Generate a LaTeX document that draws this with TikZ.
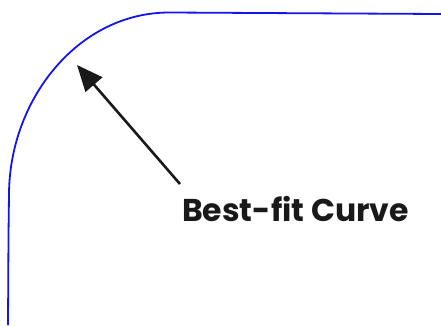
\documentclass[tikz,border=0pt]{standalone}
\usepackage{fontspec}
\setmainfont{Poppins}
\usetikzlibrary{arrows.meta}
\begin{document}
\begin{tikzpicture}[x=1pt,y=-1pt,
  curveline/.style={draw={rgb,255:red,20;green,20;blue,240},line width=1.8pt},
  pointer/.style={draw=black!90,line width=2.6pt,-{Triangle[length=26pt,width=22pt]}},
  lbl/.style={font=\fontsize{31.5}{36}\selectfont\bfseries,text=black!90,inner sep=0pt}]
\useasboundingbox (0,0) rectangle (441,325);
\draw[curveline] (8,325) -- (8.5,235) -- (9,195) .. controls (9,100) and (78,12) .. (170,12.5) -- (441,14);
\coordinate (tail) at (180,184);
\coordinate (tip) at (77,65);
\draw[pointer] (tail) -- (tip);
\node[lbl,anchor=base west] (label) at (182,221) {Best-fit Curve};
\end{tikzpicture}
\end{document}
